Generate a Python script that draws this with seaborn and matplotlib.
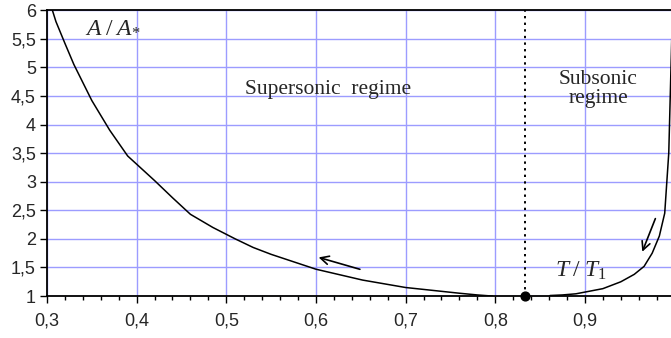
import matplotlib
matplotlib.use("Agg")
import matplotlib.pyplot as plt
import seaborn as sns
import pandas as pd
from matplotlib.ticker import MultipleLocator, FuncFormatter

# Data
super_x = [0.305, 0.31, 0.32, 0.33, 0.35, 0.37, 0.39, 0.42, 0.44, 0.46, 0.485, 0.51, 0.53, 0.55, 0.575, 0.60, 0.652, 0.70, 0.76, 0.78, 0.797]
super_y = [6.05, 5.80, 5.42, 5.05, 4.42, 3.90, 3.45, 3.02, 2.72, 2.43, 2.20, 2.00, 1.85, 1.73, 1.60, 1.47, 1.28, 1.15, 1.05, 1.02, 1.00]
sub_x = [0.861, 0.875, 0.89, 0.90, 0.92, 0.94, 0.955, 0.966, 0.975, 0.983, 0.989, 0.9935, 0.996, 0.998]
sub_y = [1.01, 1.02, 1.04, 1.07, 1.13, 1.25, 1.38, 1.52, 1.75, 2.05, 2.45, 3.50, 5.00, 6.20]
critical_x = 0.8333
critical_y = 1.0
x_ticks = [0.3, 0.4, 0.5, 0.6, 0.7, 0.8, 0.9]
y_ticks = [1, 1.5, 2, 2.5, 3, 3.5, 4, 4.5, 5, 5.5, 6]

sns.set_style("white")
plt.rcParams['font.family'] = ['Liberation Sans', 'DejaVu Sans']
plt.rcParams['mathtext.fontset'] = 'custom'
plt.rcParams['mathtext.it'] = 'Liberation Serif:italic'
plt.rcParams['mathtext.rm'] = 'Liberation Serif'

fig = plt.figure(figsize=(6.71, 3.38), dpi=100)
ax = fig.add_axes([0.070, 0.124, 0.930, 0.846])

df_sup = pd.DataFrame({"x": super_x, "y": super_y})
df_sub = pd.DataFrame({"x": sub_x, "y": sub_y})
sns.lineplot(data=df_sup, x="x", y="y", sort=False, color="black", lw=1.1, ax=ax, estimator=None)
sns.lineplot(data=df_sub, x="x", y="y", sort=False, color="black", lw=1.1, ax=ax, estimator=None)

ax.plot([critical_x, critical_x], [critical_y, 6], color="black", lw=1.4, ls=(0, (1.2, 2.2)), zorder=3)
ax.scatter([critical_x], [critical_y], s=40, color="black", zorder=5, clip_on=False)

ax.set_xlim(0.3, 0.996)
ax.set_ylim(1, 6)
ax.set_xticks(x_ticks)
ax.set_yticks(y_ticks)
ax.xaxis.set_minor_locator(MultipleLocator(0.02))
fmt = FuncFormatter(lambda v, p: (f"{v:.1f}" if abs(v - round(v)) > 1e-9 else f"{int(round(v))}").replace(".", ","))
ax.xaxis.set_major_formatter(FuncFormatter(lambda v, p: f"{v:.1f}".replace(".", ",")))
ax.yaxis.set_major_formatter(fmt)
ax.grid(True, which="major", color="#9c9cff", lw=1.0)
ax.set_axisbelow(True)
ax.tick_params(axis="x", which="major", direction="out", length=5, width=1, labelsize=13, pad=7, bottom=True, color="black")
ax.tick_params(axis="x", which="minor", direction="out", length=3, width=1, bottom=True, color="black")
ax.tick_params(axis="y", which="major", direction="out", length=5, width=1, labelsize=13, pad=3, left=True, color="black")
for s in ["left", "bottom", "top"]:
    ax.spines[s].set_color("black")
    ax.spines[s].set_linewidth(1.3)
ax.spines["right"].set_visible(False)
ax.set_xlabel("")
ax.set_ylabel("")

ax.annotate("", xy=(0.600, 1.69), xytext=(0.652, 1.455),
            arrowprops=dict(arrowstyle="->", color="black", lw=1.2, mutation_scale=15))
ax.annotate("", xy=(0.9628, 1.73), xytext=(0.9797, 2.40),
            arrowprops=dict(arrowstyle="->", color="black", lw=1.2, mutation_scale=15))

ax.text(0.373, 5.72, r"$A\;/\;A_{*}$", fontsize=17, ha="center", va="center")
ax.text(0.895, 1.45, r"$T\;/\;T_{1}$", fontsize=17, ha="center", va="center")
ax.text(0.613, 4.62, "Supersonic  regime", family="Liberation Serif", fontsize=15.5, ha="center", va="center")
ax.text(0.915, 4.62, "Subsonic\nregime", family="Liberation Serif", fontsize=15.5, ha="center", va="center", linespacing=0.95)

fig.savefig("out.png", dpi=100)
